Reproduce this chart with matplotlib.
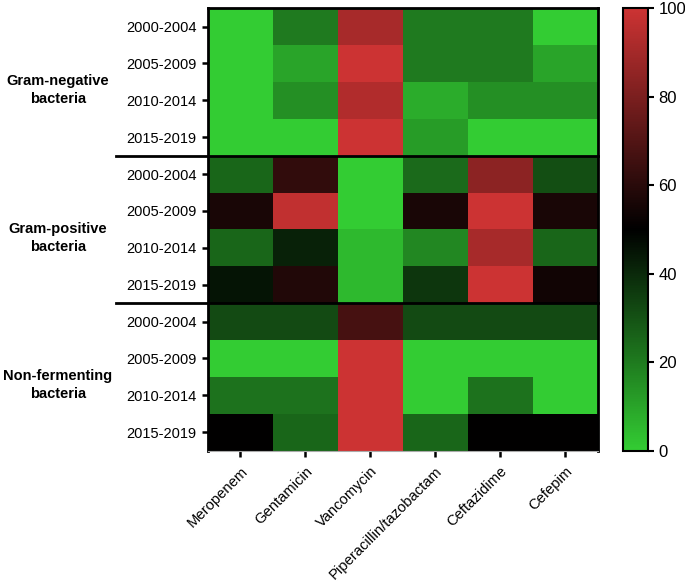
import numpy as np
import matplotlib.pyplot as plt
from matplotlib.colors import LinearSegmentedColormap

plt.rcParams['font.family'] = ['Liberation Sans', 'DejaVu Sans']

drugs = ['Meropenem', 'Gentamicin', 'Vancomycin', 'Piperacillin/tazobactam',
         'Ceftazidime', 'Cefepim']
periods = ['2000-2004', '2005-2009', '2010-2014', '2015-2019']
groups = ['Gram-negative\nbacteria', 'Gram-positive\nbacteria', 'Non-fermenting\nbacteria']

gram_neg = [[0, 20, 91, 20, 20, 0],
            [0, 10, 100, 20, 20, 10],
            [0, 15, 93, 8, 15, 15],
            [0, 0, 100, 12, 0, 0]]
gram_pos = [[25, 62, 0, 24, 84, 31],
            [56, 97, 0, 56, 100, 56],
            [25, 42, 5, 17, 91, 25],
            [45, 58, 5, 37, 100, 54]]
non_ferm = [[32, 32, 67, 32, 32, 32],
            [0, 0, 100, 0, 0, 0],
            [22, 22, 100, 0, 22, 0],
            [50, 25, 100, 25, 50, 50]]

data = np.array(gram_neg + gram_pos + non_ferm)
cmap = LinearSegmentedColormap.from_list('gkr', ['#33CC33', '#000000', '#CC3333'])

fig = plt.figure(figsize=(6.85, 5.83), dpi=100)
ax = fig.add_axes([0.3036, 0.227, 0.569, 0.759])
cax = fig.add_axes([0.9095, 0.227, 0.0365, 0.759])

mesh = ax.pcolormesh(data, cmap=cmap, vmin=0, vmax=100)
ax.set_ylim(len(data), 0)
ax.set_xlim(0, len(drugs))

ax.set_yticks(np.arange(len(data)) + 0.5)
ax.set_yticklabels(periods * 3, fontsize=10.5)
ax.set_xticks(np.arange(len(drugs)) + 0.5)
ax.set_xticklabels(drugs, rotation=45, ha='right', rotation_mode='anchor', fontsize=10.6)
ax.tick_params(axis='both', width=1.8, length=4.5)
ax.tick_params(axis='x', pad=5)

for side in ['top', 'right', 'left']:
    ax.spines[side].set_linewidth(2)
ax.spines['bottom'].set_linewidth(0.8)
ax.spines['bottom'].set_color('#aaaaaa')

# group separators reaching out to the group labels
for y in [4, 8]:
    ax.plot([-0.236, 1], [y, y], color='black', lw=2,
            transform=ax.get_yaxis_transform(), clip_on=False)

for i, g in enumerate(groups):
    ax.text(-0.385, i * 4 + 2.23, g, transform=ax.get_yaxis_transform(),
            ha='center', va='center', fontsize=10.5, fontweight='bold',
            linespacing=1.35)

cb = fig.colorbar(mesh, cax=cax, ticks=[0, 20, 40, 60, 80, 100])
cb.outline.set_linewidth(1.5)
cb.ax.tick_params(labelsize=12, width=1.5, length=4)

fig.savefig('out.png', dpi=100)
